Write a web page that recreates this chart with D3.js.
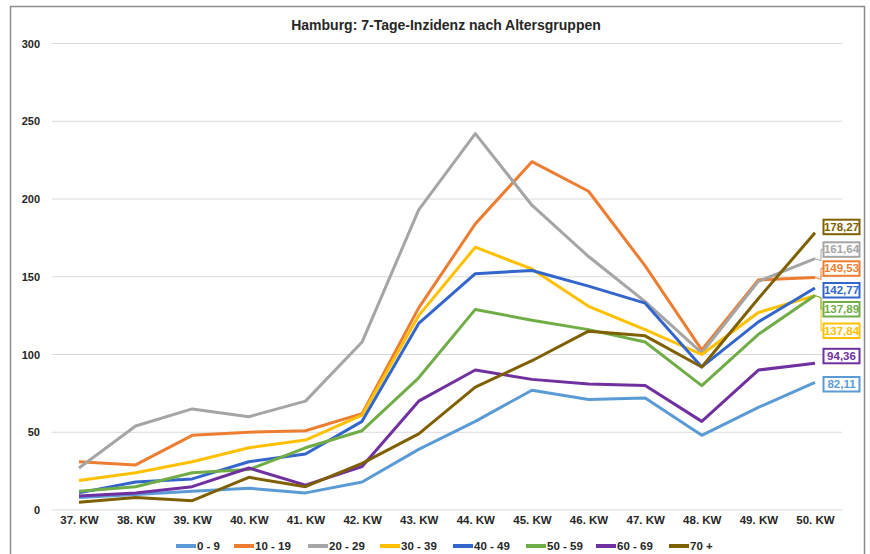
<!DOCTYPE html>
<html><head><meta charset="utf-8">
<script src="https://cdn.jsdelivr.net/npm/d3@7"></script>
<style>
body{margin:0;background:#fff;}
svg{display:block;}
text{font-family:"Liberation Sans Narrow","Arial Narrow","Liberation Sans",Arial,sans-serif;font-weight:bold;}
</style></head>
<body><svg id="c" width="870" height="554"></svg>
<script>
const weeks = ["37. KW","38. KW","39. KW","40. KW","41. KW","42. KW","43. KW","44. KW","45. KW","46. KW","47. KW","48. KW","49. KW","50. KW"];
const yTicks = [0,50,100,150,200,250,300];
const groups = ["0 - 9","10 - 19","20 - 29","30 - 39","40 - 49","50 - 59","60 - 69","70 +"];
const s0_9   = [8, 10, 12, 14, 11, 18, 39, 57, 77, 71, 72, 48, 66, 82.11];
const s10_19 = [31, 29, 48, 50, 51, 62, 130, 184, 224, 205, 157, 103, 148, 149.53];
const s20_29 = [27, 54, 65, 60, 70, 108, 193, 242, 196, 163, 134, 101, 147, 161.64];
const s30_39 = [19, 24, 31, 40, 45, 61, 125, 169, 155, 131, 116, 100, 127, 137.84];
const s40_49 = [11, 18, 20, 31, 36, 57, 120, 152, 154, 144, 133, 92, 121, 142.77];
const s50_59 = [12, 15, 24, 26, 40, 51, 85, 129, 122, 116, 108, 80, 113, 137.89];
const s60_69 = [9, 11, 15, 27, 16, 28, 70, 90, 84, 81, 80, 57, 90, 94.36];
const s70p   = [5, 8, 6, 21, 15, 30, 49, 79, 96, 115, 112, 92, 136, 178.27];
const endLabels = ["82,11","149,53","161,64","137,84","142,77","137,89","94,36","178,27"];
const colors = ["#5B9BD5","#ED7D31","#A5A5A5","#FFC000","#3366CC","#70AD47","#7030A0","#7F6000"];
const title = "Hamburg: 7-Tage-Inzidenz nach Altersgruppen";

const seriesVals = [s0_9,s10_19,s20_29,s30_39,s40_49,s50_59,s60_69,s70p];
const series = groups.map((g,i)=>({name:g, values:seriesVals[i], color:colors[i], label:endLabels[i]}));

const svg = d3.select("#c");
// frame
svg.append("rect").attr("x",10.5).attr("y",6.5).attr("width",854).attr("height",560)
  .attr("fill","#fff").attr("stroke","#8c8c8c").attr("stroke-width",1.5);

const x = d3.scalePoint().domain(weeks).range([79,815]);
const y = d3.scaleLinear().domain([0,300]).range([510,43.5]);

// grid
svg.append("g").selectAll("line").data(yTicks).join("line")
  .attr("x1",52).attr("x2",842).attr("y1",d=>y(d)).attr("y2",d=>y(d))
  .attr("stroke","#d9d9d9").attr("stroke-width",1);

// y axis labels
const yAxis = d3.axisLeft(y).tickValues(yTicks).tickSize(0).tickPadding(0).tickFormat(d3.format("d"));
const gy = svg.append("g").attr("transform","translate(40,0)").call(yAxis);
gy.select(".domain").remove();
gy.selectAll("text").attr("font-size",11).attr("fill","#262626")
  .style("font-family",'"Liberation Sans Narrow","Liberation Sans",Arial,sans-serif').style("font-weight","bold");

// x axis labels
const xAxis = d3.axisBottom(x).tickSize(0).tickPadding(0);
const gx = svg.append("g").attr("transform","translate(0,516)").call(xAxis);
gx.select(".domain").remove();
gx.selectAll("text").attr("font-size",11.5).attr("fill","#262626")
  .style("font-family",'"Liberation Sans Narrow","Liberation Sans",Arial,sans-serif').style("font-weight","bold");

// title
svg.append("text").attr("x",446).attr("y",30).attr("text-anchor","middle")
  .attr("font-size",14).attr("fill","#262626").text(title);

// lines
const line = d3.line().x((d,i)=>x(weeks[i])).y(d=>y(d));
svg.append("g").selectAll("path").data(series).join("path")
  .attr("d",d=>line(d.values)).attr("fill","none")
  .attr("stroke",d=>d.color).attr("stroke-width",3).attr("stroke-linejoin","round");

// end labels
const labelY = {"178,27":226.7,"161,64":249.3,"149,53":268.3,"142,77":290,"137,89":309,"137,84":330.5,"94,36":355.8,"82,11":384};
const lg = svg.append("g");
series.forEach(s=>{
  const last = s.values[s.values.length-1];
  const ex = x(weeks[weeks.length-1]), ey = y(last);
  const cy = labelY[s.label];
  if (Math.abs(cy-ey) > 9) {
    lg.append("polyline").attr("points",`${ex},${ey} ${ex+6},${ey+2} ${ex+6},${cy} ${ex+9},${cy}`)
      .attr("fill","none").attr("stroke",s.color).attr("stroke-width",1);
  }
  const t = lg.append("text").attr("x",841.5).attr("y",cy+4).attr("text-anchor","middle")
    .attr("font-size",11.5).attr("fill",s.color).text(s.label);
  const bb = t.node().getBBox();
  lg.insert("rect","text:last-of-type")
    .attr("x",823.5).attr("y",cy-7).attr("width",36).attr("height",14.5)
    .attr("fill","#fff").attr("stroke",s.color).attr("stroke-width",2);
  t.raise();
});

// legend
const legendX = [176,234,308,380,453,526,596,669];
const leg = svg.append("g");
series.forEach((s,i)=>{
  const gx0 = legendX[i];
  leg.append("line").attr("x1",gx0).attr("x2",gx0+20).attr("y1",546).attr("y2",546)
    .attr("stroke",s.color).attr("stroke-width",4);
  leg.append("text").attr("x",gx0+21).attr("y",550).attr("font-size",11.5).attr("fill","#262626").text(s.name);
});
</script></body></html>
